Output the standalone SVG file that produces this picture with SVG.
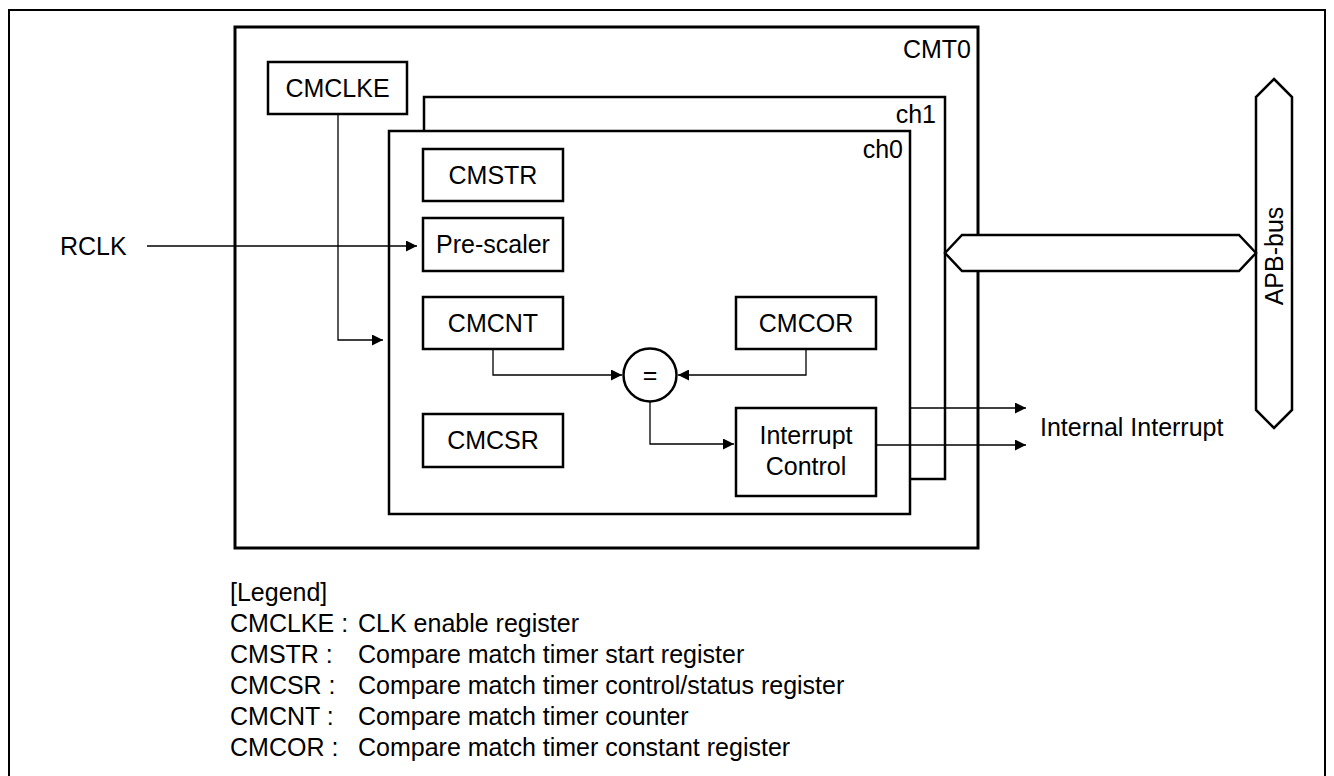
<svg xmlns="http://www.w3.org/2000/svg" width="1334" height="776" viewBox="0 0 1334 776">
<defs>
<marker id="ah" viewBox="0 0 10 10" refX="10" refY="5" markerWidth="11" markerHeight="11" markerUnits="userSpaceOnUse" orient="auto">
<path d="M0,0 L10,5 L0,10 Z" fill="#000"/>
</marker>
</defs>
<style>
text{font-family:"Liberation Sans",Arial,sans-serif;font-size:25px;fill:#000}
.box{fill:#fff;stroke:#000;stroke-width:2.5}
.thick{fill:#fff;stroke:#000;stroke-width:3}
.ln{fill:none;stroke:#000;stroke-width:1.3}
.c{text-anchor:middle}
.r{text-anchor:end}
</style>
<rect width="1334" height="776" fill="#fff"/>
<rect x="9" y="10" width="1316" height="780" fill="none" stroke="#000" stroke-width="2"/>
<g id="CMT0"><rect class="thick" x="235" y="27" width="743" height="521"/><text class="r" x="971" y="58">CMT0</text></g>
<g id="CMCLKE"><rect class="box" x="268" y="62" width="139" height="52"/><text class="c" x="337.5" y="97">CMCLKE</text></g>
<g id="ch1"><rect class="box" x="424" y="97" width="521" height="382"/><text class="r" x="936" y="123">ch1</text></g>
<g id="ch0"><rect class="box" x="389" y="131" width="521" height="383"/><text class="r" x="903" y="158">ch0</text></g>
<g id="CMSTR"><rect class="box" x="423" y="149" width="140" height="52"/><text class="c" x="493" y="184">CMSTR</text></g>
<g id="Prescaler"><rect class="box" x="423" y="218" width="140" height="53"/><text class="c" x="493" y="253">Pre-scaler</text></g>
<g id="CMCNT"><rect class="box" x="423" y="297" width="140" height="52"/><text class="c" x="493" y="332">CMCNT</text></g>
<g id="CMCOR"><rect class="box" x="736" y="297" width="140" height="52"/><text class="c" x="806" y="332">CMCOR</text></g>
<g id="CMCSR"><rect class="box" x="423" y="414" width="140" height="53"/><text class="c" x="493" y="449">CMCSR</text></g>
<g id="IntCtrl"><rect class="box" x="736" y="408" width="140" height="88"/><text class="c" x="806" y="444">Interrupt</text><text class="c" x="806" y="475">Control</text></g>
<g id="cmp"><circle cx="650" cy="375" r="26.5" fill="#fff" stroke="#000" stroke-width="2.5"/><text class="c" x="650" y="384">=</text></g>
<g id="APBbus">
<polygon points="1274,79 1292,97 1292,410 1274,428 1256,410 1256,97" fill="#fff" stroke="#000" stroke-width="2.5"/>
<polygon points="945,253 962,235 1239,235 1256,253 1239,271 962,271" fill="#fff" stroke="#000" stroke-width="2.5"/>
<text class="c" transform="translate(1283,256) rotate(-90)">APB-bus</text>
</g>
<g id="RCLK"><text x="60" y="255">RCLK</text></g>
<g id="IntInt"><text x="1040" y="436">Internal Interrupt</text></g>
<g id="connectors">
<path class="ln" d="M147,246 H417" marker-end="url(#ah)"/>
<path class="ln" d="M338,114 V340 H383" marker-end="url(#ah)"/>
<path class="ln" d="M493,349 V375 H622" marker-end="url(#ah)"/>
<path class="ln" d="M806,349 V375 H678" marker-end="url(#ah)"/>
<path class="ln" d="M650,401.5 V444 H734" marker-end="url(#ah)"/>
<path class="ln" d="M910,408 H1026" marker-end="url(#ah)"/>
<path class="ln" d="M876,445 H1026" marker-end="url(#ah)"/>
</g>
<g id="legend">
<text x="230" y="601">[Legend]</text>
<text x="230" y="632">CMCLKE :</text><text x="358" y="632">CLK enable register</text>
<text x="230" y="663">CMSTR :</text><text x="358" y="663">Compare match timer start register</text>
<text x="230" y="694">CMCSR :</text><text x="358" y="694">Compare match timer control/status register</text>
<text x="230" y="725">CMCNT :</text><text x="358" y="725">Compare match timer counter</text>
<text x="230" y="756">CMCOR :</text><text x="358" y="756">Compare match timer constant register</text>
</g>
</svg>
